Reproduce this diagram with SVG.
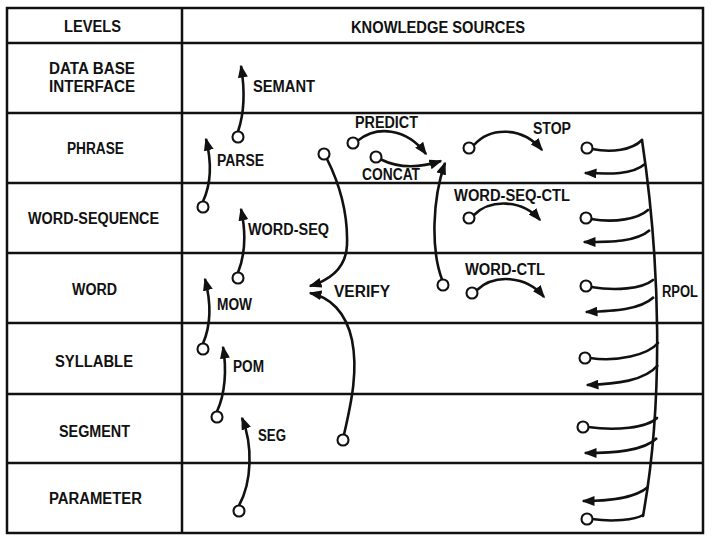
<svg xmlns="http://www.w3.org/2000/svg" width="712" height="541" viewBox="0 0 712 541">
<style>
  .grid { fill: none; stroke: #111; stroke-width: 2.5; }
  .t { font-family: "Liberation Sans", Arial, sans-serif; font-weight: bold; font-size: 16px; fill: #111; }
  .c { fill: none; stroke: #111; stroke-width: 2.6; stroke-linecap: round; }
  .a { fill: none; stroke: #111; stroke-width: 2.6; marker-end: url(#ah); }
  .n { fill: #fff; stroke: #111; stroke-width: 2.1; }
</style>
<defs>
  <marker id="ah" markerUnits="userSpaceOnUse" viewBox="0 0 13 10" markerWidth="13" markerHeight="10" refX="11.5" refY="5" orient="auto">
    <path d="M0,0 L13,5 L0,10 z" fill="#111"/>
  </marker>
</defs>
<rect x="0" y="0" width="712" height="541" fill="#fff"/>

<g id="grid">
  <rect class="grid" x="7" y="8" width="696" height="525"/>
  <line class="grid" x1="182" y1="8" x2="182" y2="533"/>
  <line class="grid" x1="7" y1="43" x2="703" y2="43"/>
  <line class="grid" x1="7" y1="113" x2="703" y2="113"/>
  <line class="grid" x1="7" y1="183" x2="703" y2="183"/>
  <line class="grid" x1="7" y1="253" x2="703" y2="253"/>
  <line class="grid" x1="7" y1="323" x2="703" y2="323"/>
  <line class="grid" x1="7" y1="394" x2="703" y2="394"/>
  <line class="grid" x1="7" y1="463" x2="703" y2="463"/>
</g>

<g id="headers">
  <text class="t" x="64" y="32" textLength="57" lengthAdjust="spacingAndGlyphs">LEVELS</text>
  <text class="t" x="351" y="33" textLength="174" lengthAdjust="spacingAndGlyphs">KNOWLEDGE SOURCES</text>
</g>

<g id="levels">
  <g id="level-database"><text class="t" x="49" y="74" textLength="86" lengthAdjust="spacingAndGlyphs">DATA BASE</text>
    <text class="t" x="49" y="92" textLength="86" lengthAdjust="spacingAndGlyphs">INTERFACE</text></g>
  <g id="level-phrase"><text class="t" x="67" y="154" textLength="57" lengthAdjust="spacingAndGlyphs">PHRASE</text></g>
  <g id="level-wordseq"><text class="t" x="28" y="224" textLength="131" lengthAdjust="spacingAndGlyphs">WORD-SEQUENCE</text></g>
  <g id="level-word"><text class="t" x="72" y="295" textLength="45" lengthAdjust="spacingAndGlyphs">WORD</text></g>
  <g id="level-syllable"><text class="t" x="55" y="367" textLength="78" lengthAdjust="spacingAndGlyphs">SYLLABLE</text></g>
  <g id="level-segment"><text class="t" x="59" y="437" textLength="71" lengthAdjust="spacingAndGlyphs">SEGMENT</text></g>
  <g id="level-parameter"><text class="t" x="49" y="504" textLength="93" lengthAdjust="spacingAndGlyphs">PARAMETER</text></g>
</g>

<g id="connectors">
  <!-- SEMANT -->
  <path class="a" d="M238,131.5 C244,114 245,90 241,66"/>
  <!-- PARSE -->
  <path class="a" d="M203,201.5 C211,184 212,163 206,139"/>
  <!-- WORD-SEQ -->
  <path class="a" d="M238,272.5 C245,255 246,232 241,209"/>
  <!-- MOW -->
  <path class="a" d="M203,343.5 C211,325 211,302 205,279"/>
  <!-- POM -->
  <path class="a" d="M217,411.5 C225,394 227,370 223,347"/>
  <!-- SEG -->
  <path class="a" d="M239,505.5 C252,482 253,445 242,418"/>
  <!-- VERIFY -->
  <path class="a" d="M327,159 C340,185 348,215 347,245 C346,268 330,280 310,286"/>
  <path class="a" d="M344,434.5 C352,400 358,370 352,340 C346,312 330,297 310,293"/>
  <!-- PREDICT -->
  <path class="a" d="M358,140.5 C376,126 406,127 426,154"/>
  <!-- CONCAT -->
  <path class="a" d="M381,159.5 C396,167 416,169 441,161"/>
  <path class="a" d="M442,279.5 C431,250 432,200 445,163"/>
  <!-- STOP -->
  <path class="a" d="M474,145 C490,127 522,126 542,150"/>
  <!-- WORD-SEQ-CTL -->
  <path class="a" d="M474,215 C490,199 522,199 540,220"/>
  <!-- WORD-CTL -->
  <path class="a" d="M477,290 C494,274 526,275 544,297"/>
  <!-- RPOL spine -->
  <path class="c" d="M642,140 C660,260 664,400 643,516"/>
  <!-- RPOL inputs -->
  <path class="c" d="M592,149 C612,153 632,150 642,140"/>
  <path class="c" d="M591,219 C615,223 638,219 648,210"/>
  <path class="c" d="M591,287 C615,291 642,289 653,280"/>
  <path class="c" d="M590,358 C617,362 648,355 658,343"/>
  <path class="c" d="M588,427 C615,431 647,428 657,418"/>
  <path class="c" d="M592,519 C612,522 635,520 643,515"/>
  <!-- RPOL outputs -->
  <path class="a" d="M645,164 C632,175 610,174 585,173"/>
  <path class="a" d="M650,230 C636,242 612,242 584,242"/>
  <path class="a" d="M654,297 C640,310 614,311 586,312"/>
  <path class="a" d="M658,365 C645,381 616,384 587,385"/>
  <path class="a" d="M657,438 C644,451 614,453 585,453"/>
  <path class="a" d="M648,487 C634,499 608,501 583,501"/>
</g>

<g id="ks-semant"><text class="t" x="253" y="92" textLength="62" lengthAdjust="spacingAndGlyphs">SEMANT</text></g>
<g id="ks-parse"><circle class="n" cx="238" cy="137" r="5.5"/><text class="t" x="217" y="166" textLength="47" lengthAdjust="spacingAndGlyphs">PARSE</text></g>
<g id="ks-wordseq"><circle class="n" cx="203" cy="207" r="5.5"/><text class="t" x="248" y="235" textLength="81" lengthAdjust="spacingAndGlyphs">WORD-SEQ</text></g>
<g id="ks-mow"><circle class="n" cx="238" cy="278" r="5.5"/><text class="t" x="217" y="310" textLength="35" lengthAdjust="spacingAndGlyphs">MOW</text></g>
<g id="ks-pom"><circle class="n" cx="203" cy="349" r="5.5"/><text class="t" x="233" y="372" textLength="31" lengthAdjust="spacingAndGlyphs">POM</text></g>
<g id="ks-seg"><circle class="n" cx="217" cy="417" r="5.5"/><circle class="n" cx="239" cy="511" r="5.5"/><text class="t" x="258" y="441" textLength="28" lengthAdjust="spacingAndGlyphs">SEG</text></g>
<g id="ks-verify"><circle class="n" cx="324" cy="154" r="5.5"/><circle class="n" cx="343" cy="440" r="5.5"/><text class="t" x="334" y="297" textLength="56" lengthAdjust="spacingAndGlyphs">VERIFY</text></g>
<g id="ks-predict"><circle class="n" cx="353" cy="143" r="5.5"/><text class="t" x="355" y="128" textLength="63" lengthAdjust="spacingAndGlyphs">PREDICT</text></g>
<g id="ks-concat"><circle class="n" cx="376" cy="157" r="5.5"/><circle class="n" cx="443" cy="285" r="5.5"/><text class="t" x="362" y="180" textLength="58" lengthAdjust="spacingAndGlyphs">CONCAT</text></g>
<g id="ks-stop"><circle class="n" cx="469" cy="148" r="5.5"/><text class="t" x="533" y="134" textLength="38" lengthAdjust="spacingAndGlyphs">STOP</text></g>
<g id="ks-wordseqctl"><circle class="n" cx="469" cy="218" r="5.5"/><text class="t" x="454" y="201" textLength="116" lengthAdjust="spacingAndGlyphs">WORD-SEQ-CTL</text></g>
<g id="ks-wordctl"><circle class="n" cx="472" cy="293" r="5.5"/><text class="t" x="465" y="275" textLength="80" lengthAdjust="spacingAndGlyphs">WORD-CTL</text></g>
<g id="ks-rpol">
  <circle class="n" cx="587" cy="148" r="5.5"/>
  <circle class="n" cx="586" cy="218" r="5.5"/>
  <circle class="n" cx="586" cy="286" r="5.5"/>
  <circle class="n" cx="585" cy="358" r="5.5"/>
  <circle class="n" cx="583" cy="427" r="5.5"/>
  <circle class="n" cx="587" cy="519" r="5.5"/>
  <text class="t" x="662" y="297" textLength="36" lengthAdjust="spacingAndGlyphs">RPOL</text>
</g>
</svg>
